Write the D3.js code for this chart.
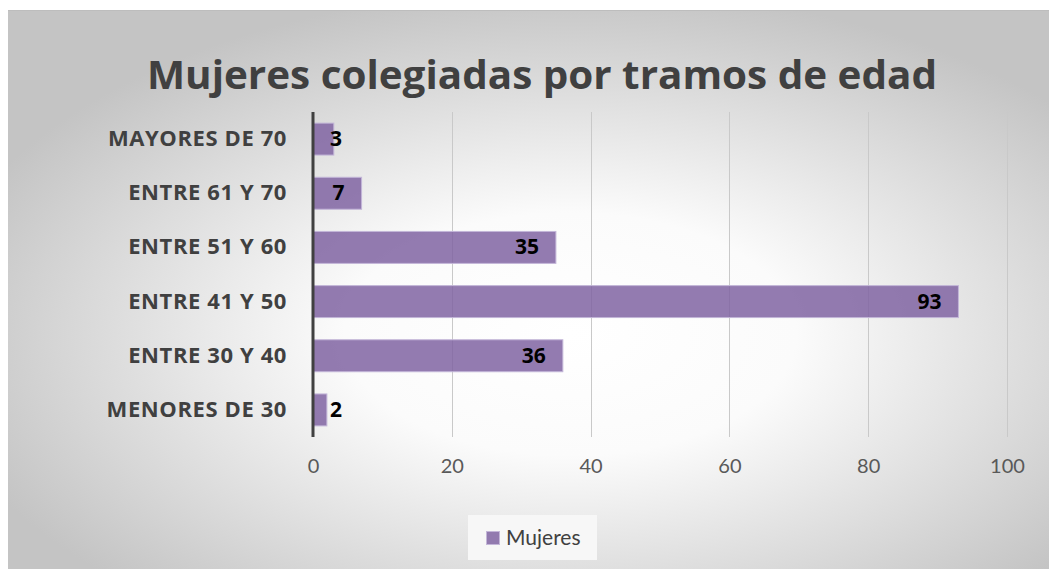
<html>
<head>
<script src="https://cdn.jsdelivr.net/npm/d3@7/dist/d3.min.js"></script>
<style>
  body { margin: 0; background: #fff; }
</style>
</head>
<body>
<div id="chart"></div>
<script>
const categories = ["MAYORES DE 70", "ENTRE 61 Y 70", "ENTRE 51 Y 60", "ENTRE 41 Y 50", "ENTRE 30 Y 40", "MENORES DE 30"];
const mujeres = [3, 7, 35, 93, 36, 2];
const xTicks = [0, 20, 40, 60, 80, 100];
const seriesName = "Mujeres";
const title = "Mujeres colegiadas por tramos de edad";

const w = 1049, h = 569;
const plot = { left: 313, right: 1007, top: 112, bottom: 437 };
const boldFont = "'Open Sans', Lato, sans-serif";
const plainFont = "Lato, 'Open Sans', sans-serif";

const svg = d3.select("#chart").append("svg")
  .attr("width", w).attr("height", h);

const defs = svg.append("defs");
const grad = defs.append("radialGradient")
  .attr("id", "bg")
  .attr("cx", "54%").attr("cy", "58%").attr("r", "62%");
grad.append("stop").attr("offset", "0%").attr("stop-color", "#ffffff");
grad.append("stop").attr("offset", "35%").attr("stop-color", "#fbfbfb");
grad.append("stop").attr("offset", "100%").attr("stop-color", "#c4c4c4");

// chart area
svg.append("rect")
  .attr("x", 8).attr("y", 10)
  .attr("width", w - 8).attr("height", h - 10)
  .attr("fill", "url(#bg)");
svg.append("line")
  .attr("x1", 8).attr("x2", w).attr("y1", 10.5).attr("y2", 10.5)
  .attr("stroke", "#bdbdbd");

svg.append("text")
  .attr("x", 542).attr("y", 89)
  .attr("text-anchor", "middle")
  .style("font-family", boldFont)
  .attr("font-size", 39).attr("font-weight", "bold")
  .attr("fill", "#404040")
  .attr("textLength", 790).attr("lengthAdjust", "spacingAndGlyphs")
  .text(title);

const xScale = d3.scaleLinear().domain([0, 100]).range([plot.left, plot.right]);
const yScale = d3.scaleBand().domain(categories).range([plot.top, plot.bottom]).paddingInner(0.41).paddingOuter(0.205);

// gridlines
svg.append("g")
  .selectAll("line")
  .data(xTicks.filter(d => d > 0))
  .enter().append("line")
  .attr("x1", d => Math.round(xScale(d)) + 0.5)
  .attr("x2", d => Math.round(xScale(d)) + 0.5)
  .attr("y1", plot.top).attr("y2", plot.bottom)
  .attr("stroke", "#c9c9c9");

// x tick labels
const xAxis = d3.axisBottom(xScale).tickValues(xTicks).tickSize(0).tickPadding(22);
const gx = svg.append("g")
  .attr("transform", "translate(0," + plot.bottom + ")")
  .call(xAxis);
gx.select(".domain").remove();
gx.selectAll("text")
  .style("font-family", plainFont)
  .style("font-size", "20px").attr("fill", "#595959");

// bars
svg.append("g")
  .selectAll("rect")
  .data(mujeres)
  .enter().append("rect")
  .attr("x", xScale(0))
  .attr("y", (d, i) => yScale(categories[i]))
  .attr("width", d => xScale(d) - xScale(0))
  .attr("height", yScale.bandwidth())
  .attr("fill", "#8064a2").attr("fill-opacity", 0.85)
  .attr("stroke", "#c3b6d8").attr("stroke-width", 1);

// category labels
const yAxis = d3.axisLeft(yScale).tickSize(0).tickPadding(26);
const gy = svg.append("g")
  .attr("transform", "translate(" + plot.left + ",0)")
  .call(yAxis);
gy.select(".domain").remove();
gy.selectAll("text")
  .style("font-family", boldFont)
  .style("font-size", "22px").style("font-weight", "bold")
  .style("letter-spacing", "0.6px")
  .attr("fill", "#404040");

// vertical axis line
svg.append("line")
  .attr("x1", xScale(0)).attr("x2", xScale(0))
  .attr("y1", plot.top).attr("y2", plot.bottom)
  .attr("stroke", "#404040").attr("stroke-width", 3);

// data labels
svg.append("g")
  .selectAll("text")
  .data(mujeres)
  .enter().append("text")
  .attr("x", d => Math.max(xScale(d) - 17, xScale(0) + 29))
  .attr("y", (d, i) => yScale(categories[i]) + yScale.bandwidth() / 2 + 7)
  .attr("text-anchor", "end")
  .style("font-family", boldFont)
  .style("font-size", "21px").style("font-weight", "bold").attr("fill", "#000")
  .text(d => d);

// legend
const lg = svg.append("g");
lg.append("rect")
  .attr("x", 468).attr("y", 515).attr("width", 129).attr("height", 45)
  .attr("fill", "#f7f7f7");
lg.append("rect")
  .attr("x", 486.5).attr("y", 531.5).attr("width", 13).attr("height", 13)
  .attr("fill", "#8064a2").attr("fill-opacity", 0.85)
  .attr("stroke", "#c3b6d8");
lg.append("text")
  .attr("x", 506).attr("y", 545)
  .style("font-family", plainFont)
  .style("font-size", "21px").attr("fill", "#404040")
  .text(seriesName);
</script>
</body>
</html>
